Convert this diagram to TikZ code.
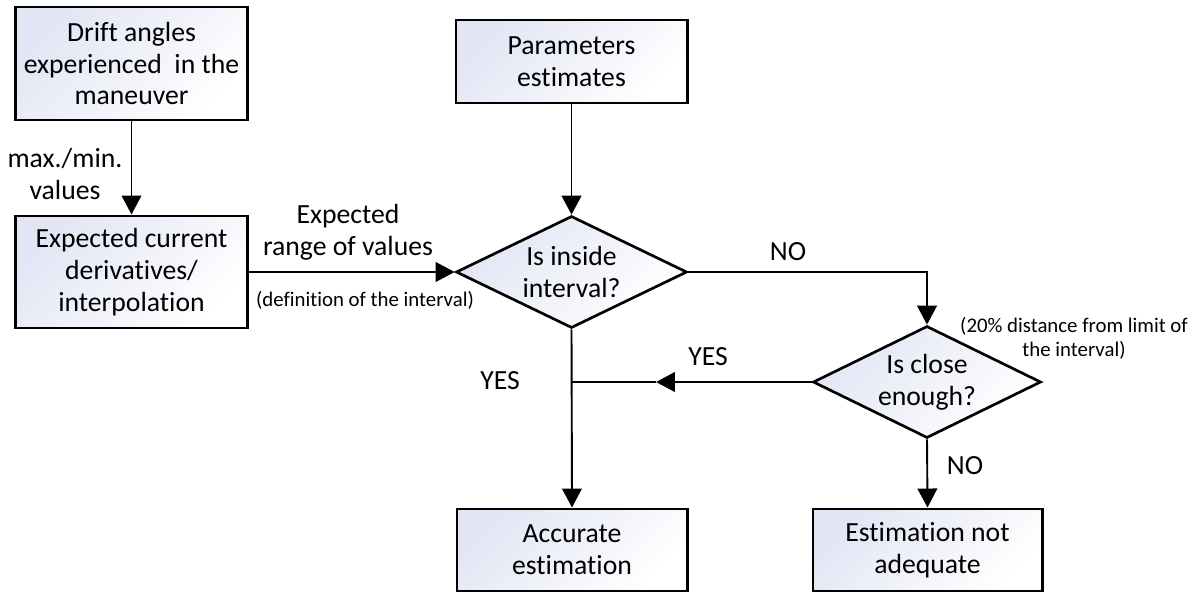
\documentclass[tikz,border=0pt]{standalone}
\usepackage{fontspec}
\setmainfont{Carlito}[Ligatures=NoCommon]
\usetikzlibrary{shapes.geometric,arrows.meta}
\definecolor{boxtint}{RGB}{226,229,244}
\begin{document}
\begin{tikzpicture}[x=0.025cm,y=-0.025cm,
  font=\fontsize{19.7pt}{22.7pt}\selectfont,
  stepbox/.style={draw=black,line width=2.1pt,top color=boxtint,bottom color=white,shading angle=45,
    align=center,inner sep=0pt},
  decision/.style={shape=diamond,draw=black,line width=1.9pt,top color=boxtint,bottom color=white,shading angle=45,
    align=center,inner sep=0pt,aspect=2},
  conn/.style={line width=1.35pt,-{Triangle[length=13.5pt,width=14pt]}},
  plain/.style={line width=1.35pt},
  lbl/.style={align=center,inner sep=0pt},
  small/.style={align=center,inner sep=0pt,font=\fontsize{14.8pt}{17pt}\selectfont}]
\useasboundingbox (0,0) rectangle (1200,591);

% process boxes
\node[stepbox,minimum width=5.775cm,minimum height=2.825cm] (drift) at (131.5,63.5)
  {Drift angles\\experienced\ \ in the\\maneuver};
\node[stepbox,minimum width=5.775cm,minimum height=2.8cm] (expected) at (131.5,272)
  {Expected current\\derivatives/\\interpolation};
\node[stepbox,minimum width=5.775cm,minimum height=2.075cm] (params) at (571.5,61.5)
  {Parameters\\estimates};
\node[stepbox,minimum width=5.75cm,minimum height=2.05cm] (accurate) at (572,550)
  {Accurate\\estimation};
\node[stepbox,minimum width=5.725cm,minimum height=2.05cm] (notadequate) at (927.5,550)
  {Estimation not\\adequate};

% decisions
\node[decision,minimum width=5.775cm,minimum height=2.8cm] (inside) at (571.5,272)
  {Is inside\\interval?};
\node[decision,minimum width=5.7cm,minimum height=2.8cm] (close) at (927,382)
  {Is close\\enough?};

% connectors
\draw[conn] (drift) -- (expected);
\draw[conn] (expected.east) -- (inside.west);
\draw[conn] (params) -- (inside);
\draw[conn] (inside.east) -| (close.north);
\draw[conn] (inside.south) -- (accurate.north);
\draw[conn] (close.south) -- (notadequate.north);
\coordinate (yestip) at (656,382);
\coordinate (join) at (571.5,382);
\draw[conn] (close.west) -- (yestip);
\draw[plain] (yestip) -- (join);

% labels
\node[lbl] (lminmax) at (65,174) {max./min.\\values};
\node[lbl] (lrange) at (348,232) {Expected\\range of values};
\node[small] (ldef) at (365,300) {(definition of the interval)};
\node[lbl] (lno1) at (788,252) {NO};
\node[lbl] (lyes1) at (708,357) {YES};
\node[lbl] (lyes2) at (500,381) {YES};
\node[lbl] (lno2) at (965,466) {NO};
\node[small] (lpct) at (1074,338) {(20\% distance from limit of\\the interval)};
\end{tikzpicture}
\end{document}
